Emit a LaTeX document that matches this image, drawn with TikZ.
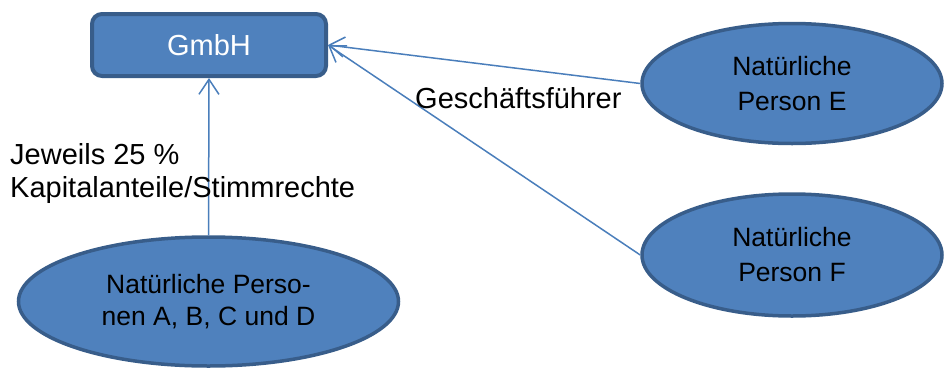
\documentclass[tikz,border=0pt]{standalone}
\usepackage{fontspec}
\setmainfont{Liberation Sans}
\usetikzlibrary{shapes.geometric,arrows.meta}
\definecolor{boxfill}{HTML}{4F81BD}
\definecolor{boxline}{HTML}{385D8A}
\definecolor{conn}{HTML}{4A7EBB}
\tikzset{
  entbox/.style={draw=boxline, fill=boxfill, line width=4pt, rounded corners=10pt,
    minimum width=234pt, minimum height=62pt, inner sep=0pt, text=white,
    font=\fontsize{29}{33}\selectfont},
  person/.style={ellipse, draw=boxline, fill=boxfill, line width=3.5pt, inner sep=0pt,
    align=center, text=black, font=\fontsize{26.5}{32}\selectfont},
  wideperson/.style={person, font=\fontsize{26.5}{35}\selectfont},
  conline/.style={draw=conn, line width=1.5pt, -{Straight Barb[length=15pt,width=20pt,line width=1.5pt]}},
  lbl/.style={font=\fontsize{29}{33}\selectfont, align=left, inner sep=0pt, anchor=west}
}
\begin{document}
\begin{tikzpicture}[x=1pt,y=-1pt]
\useasboundingbox (0,0) rectangle (945,370);
\node[entbox] (gmbh) at (209,45) {GmbH};
\node[person, minimum width=380pt, minimum height=129pt] (abcd) at (208.5,301.5) {Natürliche Perso-\\nen A, B, C und D};
\node[wideperson, minimum width=300pt, minimum height=120pt] (pe) at (792,83.5) {Natürliche\\Person E};
\node[wideperson, minimum width=300pt, minimum height=122pt] (pf) at (792,255) {Natürliche\\Person F};
\draw[conline] (abcd.north) -- (gmbh.south);
\draw[conline] (pe.west) -- (gmbh.east);
\draw[conline] (pf.west) -- (gmbh.east);
\node[lbl] (gf) at (415,98) {Geschäftsführer};
\node[lbl] (anteil) at (10,173) {Jeweils 25 \%\\Kapitalanteile/Stimmrechte};
\end{tikzpicture}
\end{document}
